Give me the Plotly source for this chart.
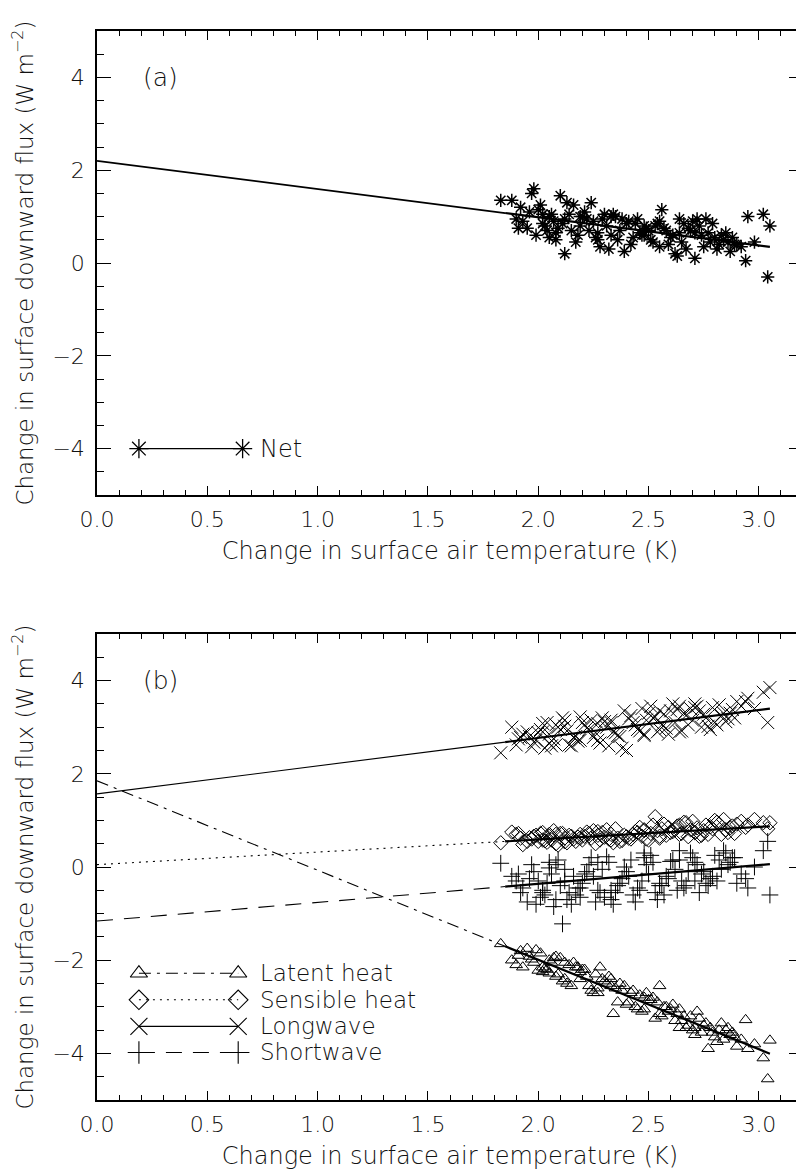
import plotly.graph_objects as go

# ---------------- data ----------------
temp_change = [
    1.83, 1.88, 1.92, 1.90, 1.95, 1.98, 1.93, 2.01, 1.97, 2.04,
    1.99, 2.06, 2.02, 1.96, 2.08, 2.05, 2.10, 2.03, 2.12, 2.07,
    2.00, 2.14, 2.09, 2.16, 2.11, 2.18, 2.13, 2.05, 2.20, 2.15,
    2.22, 2.17, 2.24, 2.19, 2.26, 2.21, 2.28, 2.23, 2.12, 2.30,
    2.25, 2.32, 2.27, 2.34, 2.29, 2.36, 2.31, 2.38, 2.33, 2.40,
    2.35, 2.42, 2.37, 2.44, 2.39, 2.46, 2.41, 2.48, 2.43, 2.50,
    2.45, 2.52, 2.47, 2.54, 2.49, 2.56, 2.51, 2.58, 2.53, 2.60,
    2.55, 2.62, 2.57, 2.64, 2.59, 2.66, 2.61, 2.68, 2.63, 2.70,
    2.65, 2.72, 2.67, 2.74, 2.69, 2.76, 2.71, 2.78, 2.73, 2.80,
    2.75, 2.82, 2.77, 2.84, 2.79, 2.86, 2.81, 2.88, 2.83, 2.90,
    2.85, 2.92, 2.87, 2.95, 2.89, 2.98, 3.02, 3.04, 3.05, 2.94,
    1.91, 2.02, 2.08, 2.19, 2.27, 2.33, 2.48, 2.55, 2.64, 2.71,
]

net_flux = [
    1.35, 1.35, 1.20, 0.95, 0.75, 1.60, 0.90, 1.25, 1.50, 0.70,
    0.60, 1.05, 0.85, 1.10, 0.65, 1.00, 1.45, 0.80, 0.20, 0.90,
    1.15, 1.05, 0.75, 1.25, 0.85, 0.60, 1.30, 0.55, 1.00, 0.70,
    0.95, 0.45, 1.30, 0.80, 0.55, 1.10, 0.35, 0.70, 0.95, 1.05,
    0.90, 0.30, 0.65, 1.05, 0.95, 0.50, 0.80, 0.95, 0.60, 0.85,
    1.00, 0.40, 0.70, 0.85, 0.25, 0.65, 0.90, 0.80, 0.55, 0.70,
    0.95, 0.45, 0.60, 0.85, 0.75, 1.15, 0.50, 0.70, 0.80, 0.55,
    0.90, 0.20, 0.75, 0.65, 0.40, 0.85, 0.60, 0.75, 0.15, 0.90,
    0.45, 0.95, 0.30, 0.60, 0.70, 0.95, 0.10, 0.45, 0.80, 0.55,
    0.35, 0.40, 0.65, 0.50, 0.85, 0.45, 0.30, 0.55, 0.60, 0.40,
    0.65, 0.35, 0.25, 1.00, 0.40, 0.45, 1.05, -0.30, 0.80, 0.05,
    0.75, 1.05, 0.50, 1.00, 0.50, 1.00, 0.60, 0.35, 0.95, 0.65,
]

latent_heat = [
    -1.65, -2.00, -1.80, -2.10, -1.75, -2.05, -2.15, -1.85, -1.98, -2.20,
    -1.78, -2.05, -2.25, -1.92, -2.35, -2.00, -1.95, -2.18, -2.40, -1.95,
    -2.22, -2.10, -2.30, -2.05, -2.45, -2.15, -2.50, -2.28, -2.20, -2.55,
    -2.35, -2.15, -2.65, -2.40, -2.30, -2.20, -2.15, -2.55, -2.05, -2.45,
    -2.70, -2.35, -2.60, -3.15, -2.40, -2.90, -2.50, -2.65, -2.40, -2.95,
    -2.60, -2.70, -2.50, -3.00, -2.55, -2.75, -2.90, -3.05, -2.65, -2.85,
    -3.05, -2.80, -3.10, -2.90, -2.70, -3.20, -2.85, -3.00, -3.25, -3.05,
    -2.55, -3.30, -3.00, -3.45, -3.10, -3.20, -2.95, -3.40, -3.15, -3.50,
    -3.30, -3.10, -3.45, -3.55, -3.20, -3.35, -3.60, -3.45, -3.25, -3.65,
    -3.40, -3.50, -3.90, -3.70, -3.55, -3.45, -3.75, -3.55, -3.35, -3.85,
    -3.50, -3.70, -3.60, -3.90, -3.65, -3.80, -4.10, -4.55, -3.72, -3.28,
    -1.90, -2.15, -1.92, -2.25, -2.70, -2.55, -2.80, -3.15, -3.05, -3.45,
]

sensible_heat = [
    0.52, 0.75, 0.62, 0.70, 0.55, 0.66, 0.48, 0.72, 0.60, 0.53,
    0.68, 0.58, 0.74, 0.63, 0.50, 0.66, 0.72, 0.56, 0.62, 0.78,
    0.55, 0.68, 0.47, 0.60, 0.72, 0.64, 0.52, 0.70, 0.58, 0.66,
    0.75, 0.55, 0.62, 0.70, 0.50, 0.66, 0.58, 0.72, 0.54, 0.64,
    0.78, 0.60, 0.68, 0.52, 0.74, 0.62, 0.80, 0.57, 0.70, 0.65,
    0.82, 0.60, 0.55, 0.76, 0.68, 0.85, 0.62, 0.78, 0.70, 0.58,
    0.74, 0.90, 0.66, 0.78, 0.60, 0.82, 0.72, 0.68, 1.08, 0.74,
    0.62, 0.80, 0.92, 0.70, 0.85, 0.96, 0.76, 0.65, 0.88, 0.98,
    0.72, 0.84, 0.95, 0.68, 0.80, 0.90, 0.74, 0.86, 0.66, 1.00,
    0.78, 0.92, 0.70, 1.02, 0.82, 0.74, 0.96, 0.88, 0.70, 0.92,
    0.80, 0.98, 0.84, 0.90, 0.72, 1.02, 0.95, 0.82, 0.95, 0.85,
    0.72, 0.58, 0.70, 0.62, 0.76, 0.58, 0.80, 0.66, 0.90, 0.74,
]

longwave = [
    2.45, 3.00, 2.78, 2.62, 2.90, 2.68, 2.85, 2.95, 2.58, 3.10,
    2.72, 2.60, 2.90, 2.80, 3.05, 2.66, 2.95, 2.55, 3.15, 2.75,
    2.88, 2.62, 3.00, 2.78, 3.20, 2.70, 2.92, 2.85, 3.10, 2.60,
    2.98, 2.80, 3.15, 2.72, 2.88, 3.05, 2.66, 2.95, 3.02, 3.12,
    2.78, 2.60, 3.08, 2.90, 3.20, 2.82, 3.00, 2.55, 3.10, 2.50,
    2.88, 3.25, 2.80, 3.05, 3.35, 2.92, 3.18, 2.85, 3.10, 3.30,
    2.95, 3.20, 3.40, 2.90, 3.15, 3.05, 3.45, 2.98, 3.22, 3.35,
    2.95, 3.10, 3.28, 3.45, 2.85, 3.30, 3.50, 3.05, 3.38, 3.15,
    2.92, 3.45, 3.25, 3.00, 3.40, 3.20, 3.50, 2.95, 3.35, 3.10,
    3.28, 3.48, 3.02, 3.30, 3.42, 3.18, 3.05, 3.38, 3.25, 3.55,
    3.12, 3.45, 3.30, 3.62, 3.20, 3.40, 3.75, 3.10, 3.85, 3.55,
    2.75, 3.08, 2.62, 3.22, 2.72, 3.15, 2.82, 3.35, 2.90, 3.42,
]

shortwave = [
    0.08, -0.20, -0.55, -0.30, -0.75, -0.10, -0.45, -0.65, 0.05, -0.35,
    -0.80, -0.15, -0.50, -0.25, -0.70, 0.10, -0.40, -0.60, -0.05, -0.85,
    -0.30, -0.55, 0.15, -0.20, -1.22, -0.45, -0.70, -0.02, -0.35, -0.80,
    -0.10, -0.60, 0.20, -0.45, -0.75, -0.15, -0.55, 0.05, -0.30, -0.65,
    -0.20, 0.10, -0.50, -0.80, -0.05, -0.40, 0.22, -0.25, -0.70, -0.10,
    -0.55, 0.15, -0.35, -0.75, 0.00, -0.50, -0.20, 0.30, -0.60, -0.15,
    -0.45, 0.10, -0.30, -0.70, 0.05, -0.40, 0.25, -0.20, -0.55, 0.12,
    -0.35, -0.05, -0.60, 0.35, -0.25, -0.45, 0.15, -0.10, -0.50, 0.20,
    -0.30, 0.05, -0.40, -0.15, 0.30, -0.35, 0.10, -0.25, -0.55, 0.25,
    -0.10, 0.15, -0.40, 0.35, -0.20, 0.05, -0.30, 0.20, -0.05, -0.35,
    0.30, -0.15, 0.10, -0.45, 0.20, 0.00, 0.35, 0.55, -0.60, -0.25,
    -0.15, -0.55, 0.05, -0.65, 0.10, -0.50, 0.20, -0.40, 0.15, -0.30,
]

# regression lines: (intercept, slope)
net_fit = (2.20, -0.607)
latent_fit = (1.85, -1.92)
sensible_fit = (0.05, 0.27)
longwave_fit = (1.57, 0.60)
shortwave_fit = (-1.16, 0.40)

fit_x_start = 0.0
fit_x_data = 1.85
fit_x_end = 3.05

x_ticks = [0.0, 0.5, 1.0, 1.5, 2.0, 2.5, 3.0]
y_ticks = [-4, -2, 0, 2, 4]

legend_b_labels = ["Latent heat", "Sensible heat", "Longwave", "Shortwave"]
legend_b_rows = [-2.28, -2.85, -3.42, -3.98]

# ---------------- figure ----------------
FONT = "'DejaVu Sans', 'Noto Sans', sans-serif"
TXT = "#111111"
fig = go.Figure()


def seg(fit, x0, x1):
    a, b = fit
    return [x0, x1], [a + b * x0, a + b * x1]


def add_fit(fit, dash, xa, ya, w0=1.1):
    xs, ys = seg(fit, fit_x_start, fit_x_data)
    fig.add_trace(go.Scatter(x=xs, y=ys, mode="lines", xaxis=xa, yaxis=ya,
                             line=dict(color="black", width=w0, dash=dash),
                             showlegend=False, hoverinfo="skip"))
    xs, ys = seg(fit, fit_x_data, fit_x_end)
    fig.add_trace(go.Scatter(x=xs, y=ys, mode="lines", xaxis=xa, yaxis=ya,
                             line=dict(color="black", width=2.2),
                             showlegend=False, hoverinfo="skip"))


def add_points(y, symbol, size, xa, ya, lw=1.0):
    fig.add_trace(go.Scatter(x=temp_change, y=y, mode="markers", xaxis=xa, yaxis=ya,
                             marker=dict(symbol=symbol, size=size, color="black",
                                         line=dict(color="black", width=lw)),
                             showlegend=False, hoverinfo="skip"))


# panel (a)
add_points(net_flux, "asterisk-open", 11, "x", "y", lw=1.5)
add_fit(net_fit, "solid", "x", "y", w0=1.8)

# panel (b)
styles_b = [
    (latent_heat, latent_fit, "triangle-up-open", 11, "12px,6px,3px,6px"),
    (sensible_heat, sensible_fit, "diamond-open", 11, "2px,5px"),
    (longwave, longwave_fit, "x-thin-open", 13, "solid"),
    (shortwave, shortwave_fit, "cross-thin-open", 12, "16px,11px"),
]
for vals, fit, sym, sz, dash in styles_b:
    add_points(vals, sym, sz, "x2", "y2")
for vals, fit, sym, sz, dash in styles_b:
    add_fit(fit, dash, "x2", "y2")

# legends drawn in data coordinates, as in the original
fig.add_trace(go.Scatter(x=[0.19, 0.66], y=[-4, -4], mode="lines+markers",
                         xaxis="x", yaxis="y",
                         line=dict(color="black", width=1.1),
                         marker=dict(symbol="asterisk-open", size=16, color="black",
                                     line=dict(color="black", width=1.3)),
                         showlegend=False, hoverinfo="skip"))
fig.add_annotation(x=0.73, y=-4, xref="x", yref="y", text="Net", showarrow=False,
                   xanchor="left", yanchor="middle", font=dict(size=24))

for (vals, fit, sym, sz, dash), row, lab in zip(styles_b, legend_b_rows, legend_b_labels):
    fig.add_trace(go.Scatter(x=[0.19, 0.64], y=[row, row], mode="lines+markers",
                             xaxis="x2", yaxis="y2",
                             line=dict(color="black", width=1.1, dash=dash),
                             marker=dict(symbol=sym, size=sz + 4, color="black",
                                         line=dict(color="black", width=1.1)),
                             showlegend=False, hoverinfo="skip"))
    fig.add_annotation(x=0.73, y=row, xref="x2", yref="y2", text=lab, showarrow=False,
                       xanchor="left", yanchor="middle", font=dict(size=23))

fig.add_annotation(x=0.2, y=4.0, xref="x", yref="y", text="(a)", showarrow=False,
                   xanchor="left", yanchor="middle", font=dict(size=25))
fig.add_annotation(x=0.2, y=4.0, xref="x2", yref="y2", text="(b)", showarrow=False,
                   xanchor="left", yanchor="middle", font=dict(size=25))

xax = dict(range=[0, 3.2], tickvals=x_ticks, ticktext=[f"{v:.1f}" for v in x_ticks],
           ticks="inside", ticklen=9, tickwidth=1, tickcolor="black",
           minor=dict(dtick=0.1, tick0=0, ticks="inside", ticklen=5, tickwidth=1, tickcolor="black"),
           showline=True, linecolor="black", linewidth=1.5, mirror="allticks",
           showgrid=False, zeroline=False, tickfont=dict(size=22), automargin=False,
           ticklabelstandoff=4,
           title=dict(text="Change in surface air temperature (K)", font=dict(size=24), standoff=11))
yax = dict(range=[-5, 5], tickvals=y_ticks, ticks="inside", ticklen=14, tickwidth=1,
           tickcolor="black",
           minor=dict(dtick=0.5, tick0=0, ticks="inside", ticklen=7, tickwidth=1, tickcolor="black"),
           showline=True, linecolor="black", linewidth=1.5, mirror="allticks",
           showgrid=False, zeroline=False, tickfont=dict(size=22), ticklabelstandoff=6,
           automargin=False,
           title=dict(text="Change in surface downward flux (W m<sup>\u22122</sup>)",
                      font=dict(size=23), standoff=14))

# the page body adds an 8 px margin; compensate so the plot lands where the original's does
W, H = 796, 1165
top, bottom = 23, 73
ph = H - top - bottom
fig.update_layout(
    width=W, height=H,
    margin=dict(l=89, r=1, t=top, b=bottom),
    paper_bgcolor="white", plot_bgcolor="white",
    font=dict(family=FONT, color=TXT, size=22, weight=200),
    xaxis=dict(xax, anchor="y", domain=[0, 1]),
    yaxis=dict(yax, anchor="x", domain=[(1100 - 495) / ph, 1.0]),
    xaxis2=dict(xax, anchor="y2", domain=[0, 1]),
    yaxis2=dict(yax, anchor="x2", domain=[0.0, (1100 - 634) / ph]),
    showlegend=False,
)

fig.write_html("out.html")
